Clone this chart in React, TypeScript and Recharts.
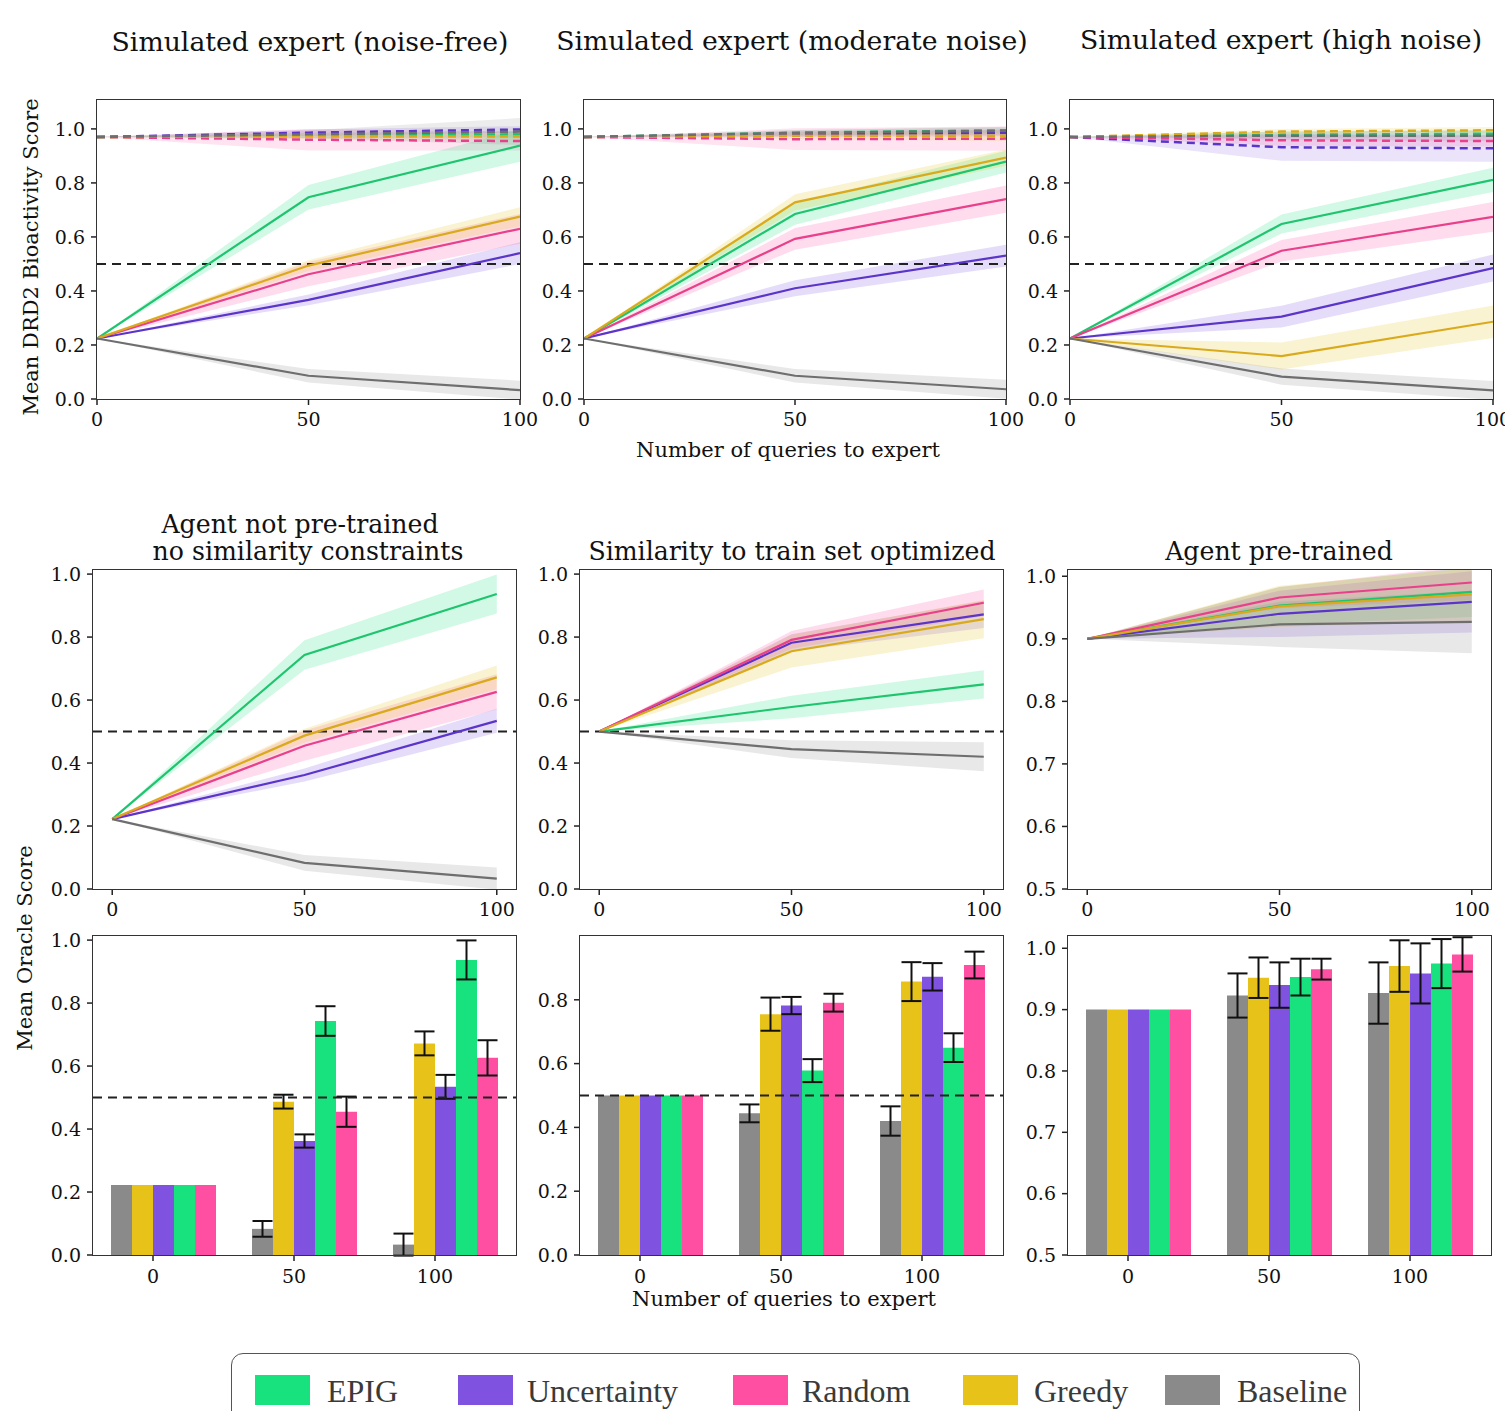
import React from 'react';
import { ComposedChart, Line, Area, Bar, ErrorBar, XAxis, YAxis, ReferenceLine } from 'recharts';

const FONT = '"DejaVu Serif", serif';
const LEGEND_FONT = '"Liberation Serif", serif';

// number of queries to expert
const queries = [0, 50, 100];

const methods = ['EPIG', 'Uncertainty', 'Random', 'Greedy', 'Baseline'];
const barOrder = ['Baseline', 'Greedy', 'Uncertainty', 'EPIG', 'Random'];

const yTicksUnit = [0, 0.2, 0.4, 0.6, 0.8, 1.0];
const yTicksUpper = [0.5, 0.6, 0.7, 0.8, 0.9, 1.0];
const yTicksSim = [0, 0.2, 0.4, 0.6, 0.8];

// values are [mean, sd] at 0 / 50 / 100 queries

// Simulated expert (noise-free) - DRD2 bioactivity (solid)
const nfEpig = [[0.224, 0], [0.747, 0.045], [0.938, 0.06]];
const nfUncertainty = [[0.224, 0], [0.367, 0.02], [0.54, 0.04]];
const nfRandom = [[0.224, 0], [0.462, 0.045], [0.63, 0.055]];
const nfGreedy = [[0.224, 0], [0.494, 0.02], [0.675, 0.035]];
const nfBaseline = [[0.224, 0], [0.086, 0.025], [0.033, 0.035]];
// Simulated expert (noise-free) - upper dashed curves
const nfEpigTop = [[0.97, 0], [0.976, 0.01], [0.98, 0.012]];
const nfUncertaintyTop = [[0.97, 0], [0.986, 0.012], [0.998, 0.012]];
const nfRandomTop = [[0.97, 0], [0.96, 0.04], [0.955, 0.035]];
const nfGreedyTop = [[0.97, 0], [0.972, 0.01], [0.972, 0.012]];
const nfBaselineTop = [[0.97, 0], [0.98, 0.015], [0.99, 0.05]];

// Simulated expert (moderate noise)
const mnEpig = [[0.224, 0], [0.685, 0.04], [0.879, 0.04]];
const mnUncertainty = [[0.224, 0], [0.41, 0.03], [0.531, 0.04]];
const mnRandom = [[0.224, 0], [0.593, 0.04], [0.74, 0.05]];
const mnGreedy = [[0.224, 0], [0.728, 0.03], [0.894, 0.03]];
const mnBaseline = [[0.224, 0], [0.086, 0.025], [0.036, 0.035]];
const mnEpigTop = [[0.97, 0], [0.986, 0.01], [0.995, 0.01]];
const mnUncertaintyTop = [[0.97, 0], [0.98, 0.01], [0.985, 0.012]];
const mnRandomTop = [[0.97, 0], [0.962, 0.04], [0.964, 0.045]];
const mnGreedyTop = [[0.97, 0], [0.975, 0.012], [0.975, 0.02]];
const mnBaselineTop = [[0.97, 0], [0.985, 0.01], [0.993, 0.015]];

// Simulated expert (high noise)
const hnEpig = [[0.224, 0], [0.648, 0.035], [0.811, 0.045]];
const hnUncertainty = [[0.224, 0], [0.305, 0.04], [0.485, 0.05]];
const hnRandom = [[0.224, 0], [0.549, 0.04], [0.674, 0.055]];
const hnGreedy = [[0.224, 0], [0.159, 0.05], [0.286, 0.06]];
const hnBaseline = [[0.224, 0], [0.083, 0.03], [0.032, 0.035]];
const hnEpigTop = [[0.97, 0], [0.978, 0.012], [0.982, 0.012]];
const hnUncertaintyTop = [[0.97, 0], [0.932, 0.05], [0.928, 0.05]];
const hnRandomTop = [[0.97, 0], [0.958, 0.02], [0.955, 0.02]];
const hnGreedyTop = [[0.97, 0], [0.99, 0.01], [0.995, 0.012]];
const hnBaselineTop = [[0.97, 0], [0.975, 0.015], [0.975, 0.02]];

// Agent not pre-trained, no similarity constraints (oracle score)
const npEpig = [[0.222, 0], [0.743, 0.047], [0.937, 0.062]];
const npUncertainty = [[0.222, 0], [0.362, 0.021], [0.534, 0.038]];
const npRandom = [[0.222, 0], [0.455, 0.048], [0.626, 0.056]];
const npGreedy = [[0.222, 0], [0.487, 0.022], [0.672, 0.038]];
const npBaseline = [[0.222, 0], [0.083, 0.025], [0.033, 0.035]];

// Similarity to train set optimized
const stEpig = [[0.5, 0], [0.578, 0.036], [0.65, 0.045]];
const stUncertainty = [[0.5, 0], [0.782, 0.027], [0.872, 0.043]];
const stRandom = [[0.5, 0], [0.791, 0.028], [0.909, 0.042]];
const stGreedy = [[0.5, 0], [0.755, 0.052], [0.857, 0.061]];
const stBaseline = [[0.5, 0], [0.444, 0.028], [0.42, 0.046]];

// Agent pre-trained
const ptEpig = [[0.9, 0], [0.953, 0.03], [0.975, 0.04]];
const ptUncertainty = [[0.9, 0], [0.94, 0.037], [0.959, 0.049]];
const ptRandom = [[0.9, 0], [0.966, 0.017], [0.99, 0.028]];
const ptGreedy = [[0.9, 0], [0.952, 0.033], [0.971, 0.042]];
const ptBaseline = [[0.9, 0], [0.923, 0.036], [0.927, 0.05]];

const fills: Record<string, string> = {
  EPIG: '#17e27d',
  Uncertainty: '#7f52e0',
  Random: '#ff4fa3',
  Greedy: '#e7c31a',
  Baseline: '#8a8a8a',
};
const strokes: Record<string, string> = {
  EPIG: '#1ec46e',
  Uncertainty: '#5b34c9',
  Random: '#e8408b',
  Greedy: '#d9aa1c',
  Baseline: '#6e6e6e',
};

type Pairs = number[][];

function buildRows(solid: Record<string, Pairs>, top: Record<string, Pairs> = {}) {
  return queries.map((q, i) => {
    const row: Record<string, any> = { q, label: String(q) };
    Object.entries(solid).forEach(([m, s]) => {
      const [mean, sd] = s[i];
      row[m] = mean;
      row[`${m}Band`] = [mean - sd, mean + sd];
      row[`${m}Err`] = sd;
    });
    Object.entries(top).forEach(([m, s]) => {
      const [mean, sd] = s[i];
      row[`${m}Top`] = mean;
      row[`${m}TopBand`] = [mean - sd, mean + sd];
    });
    return row;
  });
}

const nfRows = buildRows(
  { EPIG: nfEpig, Uncertainty: nfUncertainty, Random: nfRandom, Greedy: nfGreedy, Baseline: nfBaseline },
  { EPIG: nfEpigTop, Uncertainty: nfUncertaintyTop, Random: nfRandomTop, Greedy: nfGreedyTop, Baseline: nfBaselineTop },
);
const mnRows = buildRows(
  { EPIG: mnEpig, Uncertainty: mnUncertainty, Random: mnRandom, Greedy: mnGreedy, Baseline: mnBaseline },
  { EPIG: mnEpigTop, Uncertainty: mnUncertaintyTop, Random: mnRandomTop, Greedy: mnGreedyTop, Baseline: mnBaselineTop },
);
const hnRows = buildRows(
  { EPIG: hnEpig, Uncertainty: hnUncertainty, Random: hnRandom, Greedy: hnGreedy, Baseline: hnBaseline },
  { EPIG: hnEpigTop, Uncertainty: hnUncertaintyTop, Random: hnRandomTop, Greedy: hnGreedyTop, Baseline: hnBaselineTop },
);
const npRows = buildRows({ EPIG: npEpig, Uncertainty: npUncertainty, Random: npRandom, Greedy: npGreedy, Baseline: npBaseline });
const stRows = buildRows({ EPIG: stEpig, Uncertainty: stUncertainty, Random: stRandom, Greedy: stGreedy, Baseline: stBaseline });
const ptRows = buildRows({ EPIG: ptEpig, Uncertainty: ptUncertainty, Random: ptRandom, Greedy: ptGreedy, Baseline: ptBaseline });

// layout
const YW = 70;
const MT = 12;
const MR = 40;
const XH = 40;
const TITLE = 26.7;
const TITLE_MID = 25.2;
const LABEL = 21;

type Rect = { x: number; y: number; w: number; h: number };

const tickStyle = { fill: '#111', fontSize: 19, fontFamily: FONT };
const tickLineStyle = { stroke: '#222', strokeWidth: 1.5 };

function FrameBox({ f }: { f: Rect }) {
  return (
    <div
      style={{
        position: 'absolute',
        left: f.x - 0.75,
        top: f.y - 0.75,
        width: f.w + 1.5,
        height: f.h + 1.5,
        border: '1.5px solid #333',
        boxSizing: 'border-box',
        pointerEvents: 'none',
      }}
    />
  );
}

function LinePanel({ f, rows, xDomain, yDomain, yTicks, withTop, threshold }: any) {
  return (
    <>
      <div style={{ position: 'absolute', left: f.x - YW, top: f.y - MT }}>
        <ComposedChart
          width={f.w + YW + MR}
          height={f.h + MT + XH}
          data={rows}
          margin={{ top: MT, right: MR, bottom: 0, left: 0 }}
        >
          <XAxis
            dataKey="q"
            type="number"
            domain={xDomain}
            ticks={queries}
            allowDataOverflow
            interval={0}
            height={XH}
            axisLine={false}
            tickLine={tickLineStyle}
            tickSize={6}
            tickMargin={8}
            tick={tickStyle}
          />
          <YAxis
            type="number"
            domain={yDomain}
            ticks={yTicks}
            allowDataOverflow
            interval={0}
            width={YW}
            axisLine={false}
            tickLine={tickLineStyle}
            tickSize={6}
            tickMargin={6}
            tick={tickStyle}
            tickFormatter={(v: number) => v.toFixed(1)}
          />
          {withTop &&
            methods.map((m) => (
              <Area
                key={`${m}-topband`}
                dataKey={`${m}TopBand`}
                type="linear"
                stroke="none"
                fill={fills[m]}
                fillOpacity={0.16}
                dot={false}
                activeDot={false}
                isAnimationActive={false}
              />
            ))}
          {methods.map((m) => (
            <Area
              key={`${m}-band`}
              dataKey={`${m}Band`}
              type="linear"
              stroke="none"
              fill={fills[m]}
              fillOpacity={0.2}
              dot={false}
              activeDot={false}
              isAnimationActive={false}
            />
          ))}
          {threshold && <ReferenceLine y={0.5} stroke="#222" strokeWidth={2} strokeDasharray="9 6" />}
          {withTop &&
            methods.map((m) => (
              <Line
                key={`${m}-top`}
                dataKey={`${m}Top`}
                type="linear"
                stroke={strokes[m]}
                strokeWidth={2.5}
                strokeDasharray="8 5"
                dot={false}
                activeDot={false}
                isAnimationActive={false}
              />
            ))}
          {methods.map((m) => (
            <Line
              key={`${m}-line`}
              dataKey={m}
              type="linear"
              stroke={strokes[m]}
              strokeWidth={2.2}
              dot={false}
              activeDot={false}
              isAnimationActive={false}
            />
          ))}
        </ComposedChart>
      </div>
      <FrameBox f={f} />
    </>
  );
}

const ShiftedTick = (props: any) => {
  const { x, y, payload } = props;
  const sx = x - 10.5;
  return (
    <g>
      <line x1={sx} x2={sx} y1={y - 13} y2={y - 7} stroke="#222" strokeWidth={1.5} />
      <text x={sx} y={y} dy={15} textAnchor="middle" fontSize={19} fontFamily={FONT} fill="#111">
        {payload.value}
      </text>
    </g>
  );
};

function BarPanel({ f, rows, yDomain, yTicks, threshold }: any) {
  return (
    <>
      <div style={{ position: 'absolute', left: f.x - YW, top: f.y - MT }}>
        <ComposedChart
          width={f.w + YW + MR}
          height={f.h + MT + XH}
          data={rows}
          margin={{ top: MT, right: MR, bottom: 0, left: 0 }}
          barCategoryGap={18}
          barGap={0}
        >
          <XAxis
            dataKey="label"
            type="category"
            interval={0}
            height={XH}
            axisLine={false}
            tickLine={false}
            tickSize={6}
            tickMargin={7}
            tick={<ShiftedTick />}
          />
          <YAxis
            type="number"
            domain={yDomain}
            ticks={yTicks}
            allowDataOverflow
            interval={0}
            width={YW}
            axisLine={false}
            tickLine={tickLineStyle}
            tickSize={6}
            tickMargin={6}
            tick={tickStyle}
            tickFormatter={(v: number) => v.toFixed(1)}
          />
          {barOrder.map((m) => (
            <Bar key={m} dataKey={m} fill={fills[m]} isAnimationActive={false}>
              <ErrorBar dataKey={`${m}Err`} width={10} stroke="#111" strokeWidth={2} direction="y" />
            </Bar>
          ))}
          {threshold && <ReferenceLine y={0.5} stroke="#222" strokeWidth={2} strokeDasharray="9 6" />}
        </ComposedChart>
      </div>
      <FrameBox f={f} />
    </>
  );
}

function Caption({ cx, baseline, size, children, family = FONT, color = '#111' }: any) {
  return (
    <div
      style={{
        position: 'absolute',
        left: cx - 400,
        width: 800,
        top: baseline - 0.846 * size,
        fontSize: size,
        lineHeight: `${size}px`,
        fontFamily: family,
        textAlign: 'center',
        color,
        whiteSpace: 'nowrap',
      }}
    >
      {children}
    </div>
  );
}

function VCaption({ cx, cy, size, children }: any) {
  return (
    <div
      style={{
        position: 'absolute',
        left: cx,
        top: cy,
        transform: 'translate(-50%, -50%) rotate(-90deg)',
        fontSize: size,
        lineHeight: `${size}px`,
        fontFamily: FONT,
        color: '#111',
        whiteSpace: 'nowrap',
      }}
    >
      {children}
    </div>
  );
}

const legendItems = [
  { name: 'EPIG', sx: 255, tx: 327 },
  { name: 'Uncertainty', sx: 458, tx: 527 },
  { name: 'Random', sx: 733, tx: 802 },
  { name: 'Greedy', sx: 963, tx: 1034 },
  { name: 'Baseline', sx: 1165, tx: 1237 },
];

export default function App() {
  return (
    <div
      style={{
        position: 'absolute',
        left: 0,
        top: 0,
        width: 1505,
        height: 1411,
        overflow: 'hidden',
        background: '#fff',
      }}
    >
      {/* top row: simulated experts */}
      <Caption cx={310} baseline={52} size={TITLE}>Simulated expert (noise-free)</Caption>
      <Caption cx={792} baseline={51} size={TITLE}>Simulated expert (moderate noise)</Caption>
      <Caption cx={1281} baseline={50} size={TITLE}>Simulated expert (high noise)</Caption>
      <LinePanel f={{ x: 97, y: 100, w: 423, h: 299 }} rows={nfRows} xDomain={[0, 100]} yDomain={[0, 1.107]} yTicks={yTicksUnit} withTop threshold />
      <LinePanel f={{ x: 584, y: 100, w: 422, h: 299 }} rows={mnRows} xDomain={[0, 100]} yDomain={[0, 1.107]} yTicks={yTicksUnit} withTop threshold />
      <LinePanel f={{ x: 1070, y: 100, w: 423, h: 299 }} rows={hnRows} xDomain={[0, 100]} yDomain={[0, 1.107]} yTicks={yTicksUnit} withTop threshold />
      <VCaption cx={31} cy={257} size={LABEL}>Mean DRD2 Bioactivity Score</VCaption>
      <Caption cx={788} baseline={458} size={LABEL}>Number of queries to expert</Caption>

      {/* middle row */}
      <Caption cx={300} baseline={533} size={TITLE_MID}>Agent not pre-trained</Caption>
      <Caption cx={308} baseline={560} size={TITLE_MID}>no similarity constraints</Caption>
      <Caption cx={792} baseline={560} size={TITLE_MID}>Similarity to train set optimized</Caption>
      <Caption cx={1279} baseline={560} size={TITLE_MID}>Agent pre-trained</Caption>
      <LinePanel f={{ x: 93, y: 570, w: 423, h: 319 }} rows={npRows} xDomain={[-5, 105]} yDomain={[0, 1.013]} yTicks={yTicksUnit} threshold />
      <LinePanel f={{ x: 580, y: 570, w: 423, h: 319 }} rows={stRows} xDomain={[-5, 105]} yDomain={[0, 1.013]} yTicks={yTicksUnit} threshold />
      <LinePanel f={{ x: 1068, y: 570, w: 423, h: 319 }} rows={ptRows} xDomain={[-5, 105]} yDomain={[0.5, 1.01]} yTicks={yTicksUpper} />

      {/* bottom row */}
      <BarPanel f={{ x: 93, y: 936, w: 423, h: 319 }} rows={npRows} yDomain={[0, 1.013]} yTicks={yTicksUnit} threshold />
      <BarPanel f={{ x: 580, y: 936, w: 423, h: 319 }} rows={stRows} yDomain={[0, 1.0]} yTicks={yTicksSim} threshold />
      <BarPanel f={{ x: 1068, y: 936, w: 423, h: 319 }} rows={ptRows} yDomain={[0.5, 1.02]} yTicks={yTicksUpper} />
      <VCaption cx={25} cy={948} size={LABEL}>Mean Oracle Score</VCaption>
      <Caption cx={784} baseline={1307} size={LABEL}>Number of queries to expert</Caption>

      {/* legend */}
      <div
        style={{
          position: 'absolute',
          left: 231,
          top: 1353,
          width: 1129,
          height: 90,
          border: '1.5px solid #555',
          borderRadius: 12,
          boxSizing: 'border-box',
        }}
      />
      {legendItems.map((it) => (
        <React.Fragment key={it.name}>
          <div
            style={{
              position: 'absolute',
              left: it.sx,
              top: 1375,
              width: 55,
              height: 30,
              background: fills[it.name],
            }}
          />
          <div
            style={{
              position: 'absolute',
              left: it.tx,
              top: 1403 - 0.89 * 32,
              fontSize: 32,
              lineHeight: '32px',
              fontFamily: LEGEND_FONT,
              color: '#3a3a3a',
              whiteSpace: 'nowrap',
            }}
          >
            {it.name}
          </div>
        </React.Fragment>
      ))}
    </div>
  );
}
